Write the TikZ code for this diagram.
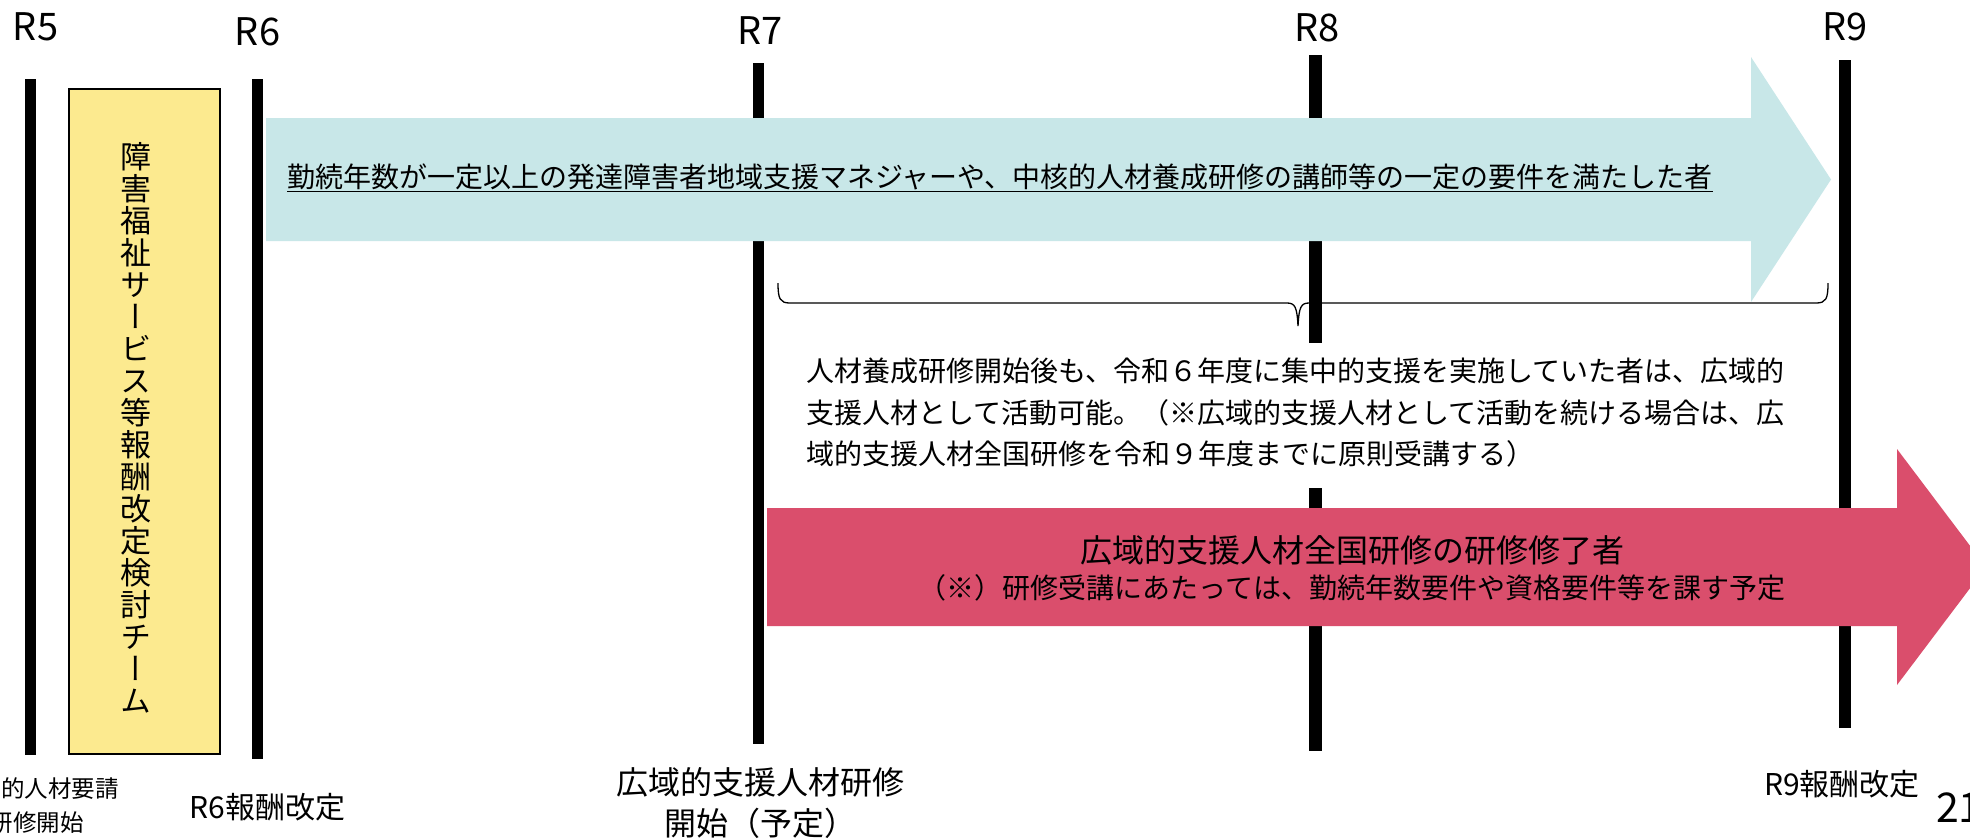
\documentclass[tikz,border=0pt]{standalone}
\usepackage{fontspec}
\setmainfont{Noto Sans CJK JP}
\newfontfamily\vertfont[RawFeature=+vert]{Noto Sans CJK JP}
\definecolor{arrowblue}{RGB}{200,231,232}
\definecolor{arrowred}{RGB}{218,78,108}
\definecolor{boxyellow}{RGB}{252,234,143}
\begin{document}
\begin{tikzpicture}[x=1pt,y=-1pt,
  timebar/.style={fill=black},
  yr/.style={inner sep=0,anchor=base,font=\fontsize{38}{44}\selectfont},
  note/.style={inner sep=0,anchor=base,font=\fontsize{30}{36}\selectfont},
  bigtxt/.style={inner sep=0,anchor=base,font=\fontsize{32}{38}\selectfont},
  bodytxt/.style={inner sep=0,anchor=base west,font=\fontsize{28}{34}\selectfont},
  smalltxt/.style={inner sep=0,anchor=base east,font=\fontsize{23.5}{28}\selectfont},
]
\useasboundingbox (0,0) rectangle (1970,839);
\clip (0,0) rectangle (1970,839);
\fill[white] (0,0) rectangle (1970,839);

% brace
\draw[line width=1.3] (778,283) .. controls (778,299) and (780,303) .. (790,303)
  -- (1287,303) .. controls (1295,303) and (1297,307) .. (1298,326)
  .. controls (1299,307) and (1301,303) .. (1309,303)
  -- (1816,303) .. controls (1826,303) and (1828,299) .. (1828,283);

% time bars
\fill[timebar] (25,79) rectangle (36,755);
\fill[timebar] (252,79) rectangle (263,759);
\fill[timebar] (753,63) rectangle (764,744);
\fill[timebar] (1309,55) rectangle (1322,751);
\fill[timebar] (1839,60) rectangle (1851,728);

% yellow box
\node[draw,line width=2,fill=boxyellow,minimum width=151,minimum height=665,inner sep=0] (teambox) at (144.5,421.5) {};
\node[inner sep=0,align=center,font=\vertfont\fontsize{31}{32}\selectfont] (teamtxt) at (136,428)
  {障\\害\\福\\祉\\サ\\ー\\ビ\\ス\\等\\報\\酬\\改\\定\\検\\討\\チ\\ー\\ム};

% arrows
\fill[arrowblue] (266,118) -- (1751,118) -- (1751,57) -- (1831,179.5) -- (1751,302) -- (1751,241) -- (266,241) -- cycle;
\fill[arrowred] (767,508) -- (1897,508) -- (1897,449) -- (1986,567) -- (1897,685) -- (1897,626) -- (767,626) -- cycle;

% year labels
\node[yr] (r5) at (35.5,40) {R5};
\node[yr] (r6) at (257.5,45) {R6};
\node[yr] (r7) at (760,44) {R7};
\node[yr] (r8) at (1317,41) {R8};
\node[yr] (r9) at (1845,40) {R9};

% blue arrow text
\node[bodytxt] (qual) at (287,187) {勤続年数が一定以上の発達障害者地域支援マネジャーや、中核的人材養成研修の講師等の一定の要件を満たした者};
\draw[line width=1.6] ([yshift=-4.5pt]qual.base west) -- ([yshift=-4.5pt]qual.base east);

% middle text (white text box covering the R8 bar)
\fill[white] (790,343) rectangle (1830,488);
\node[bodytxt] (m1) at (806,381) {人材養成研修開始後も、令和６年度に集中的支援を実施していた者は、広域的};
\node[bodytxt] (m2) at (806,423) {支援人材として活動可能。（※広域的支援人材として活動を続ける場合は、広};
\node[bodytxt] (m3) at (806,464) {域的支援人材全国研修を令和９年度までに原則受講する）};

% red arrow text
\node[bigtxt] (red1) at (1352,562) {広域的支援人材全国研修の研修修了者};
\node[inner sep=0,anchor=base,font=\fontsize{28}{34}\selectfont] (red2) at (1352,598) {（※）研修受講にあたっては、勤続年数要件や資格要件等を課す予定};

% bottom labels
\node[smalltxt] (r5a) at (119,797) {的人材要請};
\node[smalltxt] (r5b) at (84,831) {研修開始};
\node[note] (r6note) at (267.5,818) {R6報酬改定};
\node[bigtxt] (r7a) at (760,794) {広域的支援人材研修};
\node[bigtxt] (r7b) at (760,835) {開始（予定）};
\node[note] (r9note) at (1842,795) {R9報酬改定};
\node[inner sep=0,anchor=base west,font=\fontsize{41}{48}\selectfont] (pg) at (1936,822) {21};
\end{tikzpicture}
\end{document}
